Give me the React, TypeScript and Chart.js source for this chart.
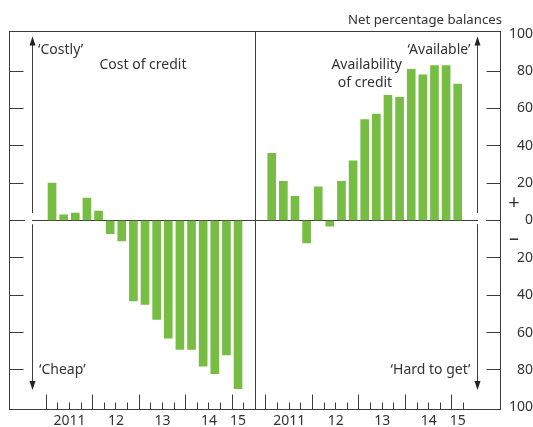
import React, { useEffect, useRef } from 'react';
import { Chart, registerables } from 'chart.js';

Chart.register(...registerables);

// ---- Data ----
const quarters = [
  '2011 Q1', '2011 Q2', '2011 Q3', '2011 Q4',
  '2012 Q1', '2012 Q2', '2012 Q3', '2012 Q4',
  '2013 Q1', '2013 Q2', '2013 Q3', '2013 Q4',
  '2014 Q1', '2014 Q2', '2014 Q3', '2014 Q4',
  '2015 Q1',
];
const yearLabels = ['2011', '12', '13', '14', '15'];
const quartersPerYear = [4, 4, 4, 4, 1];
const costOfCredit = [20, 3, 4, 12, 5, -7, -11, -43, -45, -53, -63, -69, -69, -78, -82, -72, -90];
const availabilityOfCredit = [36, 21, 13, -12, 18, -3, 21, 32, 54, 57, 67, 66, 81, 78, 83, 83, 73];
const yTickValues = [-100, -80, -60, -40, -20, 0, 20, 40, 60, 80, 100];

// ---- Layout / style constants ----
const LEFT_PANEL_START = 0;
const RIGHT_PANEL_START = 18.9;
const PANEL_DIVIDER = 18.04;
const X_MIN = -3.16;
const X_MAX = 39.08;
const Y_LIMIT = 101.2;
const FONT = '"Noto Sans", "Open Sans", sans-serif';
const LINE = '#3d3d3d';
const TEXT = '#333333';
const BAR = '#77bd43';
const NONE = 'rgba(0,0,0,0)';

function buildXTicks() {
  const ticks: any[] = [];
  [LEFT_PANEL_START, RIGHT_PANEL_START].forEach((start) => {
    for (let k = 0; k <= quarters.length; k++) {
      ticks.push({ value: start + k, kind: k % 4 === 0 ? 'major' : 'minor', text: '' });
    }
    let q = 0;
    yearLabels.forEach((label, i) => {
      ticks.push({ value: start + q + quartersPerYear[i] / 2, kind: 'label', text: label });
      q += quartersPerYear[i];
    });
  });
  ticks.push({ value: PANEL_DIVIDER, kind: 'divider', text: '' });
  return ticks;
}

const noAxisPadding = (scale: any) => {
  scale.paddingTop = 0;
  scale.paddingBottom = 0;
  scale.paddingLeft = 0;
  scale.paddingRight = 0;
};

const annotationPlugin = {
  id: 'annotations',
  afterDraw(chart: any) {
    const { ctx, chartArea: ca } = chart;
    const y = chart.scales.y;
    const zero = y.getPixelForValue(0);
    ctx.save();

    // frame
    ctx.strokeStyle = LINE;
    ctx.lineWidth = 1;
    ctx.strokeRect(ca.left, ca.top, ca.right - ca.left, ca.bottom - ca.top);

    // gaps in zero line near arrows
    ctx.fillStyle = '#ffffff';
    ctx.fillRect(ca.left + 15.5, zero - 2, 7, 4);
    ctx.fillRect(ca.right - 22.5, zero - 2, 8, 4);

    // arrows
    const drawArrow = (x: number) => {
      const top = y.getPixelForValue(98.5);
      const bottom = y.getPixelForValue(-90.8);
      const gapTop = y.getPixelForValue(4);
      const gapBottom = y.getPixelForValue(-2);
      ctx.strokeStyle = LINE;
      ctx.lineWidth = 1;
      ctx.beginPath();
      ctx.moveTo(x, top + 6);
      ctx.lineTo(x, gapTop);
      ctx.moveTo(x, gapBottom);
      ctx.lineTo(x, bottom - 6);
      ctx.stroke();
      ctx.fillStyle = '#222';
      ctx.beginPath();
      ctx.moveTo(x, top);
      ctx.lineTo(x - 3, top + 9);
      ctx.lineTo(x + 3, top + 9);
      ctx.closePath();
      ctx.fill();
      ctx.beginPath();
      ctx.moveTo(x, bottom);
      ctx.lineTo(x - 3, bottom - 9);
      ctx.lineTo(x + 3, bottom - 9);
      ctx.closePath();
      ctx.fill();
    };
    drawArrow(ca.left + 23);
    drawArrow(ca.right - 23);

    // texts
    ctx.fillStyle = TEXT;
    ctx.font = `14px ${FONT}`;
    ctx.textBaseline = 'alphabetic';
    ctx.textAlign = 'left';
    ctx.fillText('\u2018Costly\u2019', ca.left + 28.5, ca.top + 22);
    ctx.fillText('\u2018Cheap\u2019', ca.left + 29.5, ca.bottom - 35.5);
    ctx.textAlign = 'center';
    ctx.fillText('Cost of credit', 143, ca.top + 37.5);
    ctx.fillText('Availability', 366.7, ca.top + 37);
    ctx.fillText('of credit', 365, ca.top + 55.5);
    ctx.textAlign = 'right';
    ctx.fillText('\u2018Available\u2019', ca.right - 30, ca.top + 22);
    ctx.fillText('\u2018Hard to get\u2019', ca.right - 30, ca.bottom - 35.5);
    ctx.font = `13.2px ${FONT}`;
    ctx.fillText('Net percentage balances', ca.right + 1.5, ca.top - 7.5);
    ctx.font = `20px ${FONT}`;
    ctx.textAlign = 'center';
    ctx.textBaseline = 'middle';
    ctx.fillText('+', 514, zero - 17);
    ctx.fillText('\u2013', 514, zero + 19);
    ctx.restore();
  },
};

export default function App() {
  const canvasRef = useRef<HTMLCanvasElement>(null);

  useEffect(() => {
    const canvas = canvasRef.current;
    if (!canvas) return;
    const fixedYTicks = (scale: any) => {
      scale.ticks = yTickValues.map((v) => ({ value: v }));
    };
    const chart = new Chart(canvas, {
      type: 'bar',
      data: {
        datasets: [
          {
            label: 'Cost of credit',
            data: costOfCredit.map((v, i) => ({ x: LEFT_PANEL_START + i + 0.5, y: v })),
            backgroundColor: BAR,
            borderWidth: 0,
            barThickness: 8,
            grouped: false,
            yAxisID: 'y',
          },
          {
            label: 'Availability of credit',
            data: availabilityOfCredit.map((v, i) => ({ x: RIGHT_PANEL_START + i + 0.5, y: v })),
            backgroundColor: BAR,
            borderWidth: 0,
            barThickness: 8,
            grouped: false,
            yAxisID: 'y',
          },
        ] as any,
      },
      options: {
        responsive: false,
        animation: false,
        devicePixelRatio: 1,
        layout: { padding: { top: 31.5, left: 0, right: 0, bottom: 0 } },
        plugins: {
          legend: { display: false },
          tooltip: { enabled: false },
          title: { display: false },
        },
        scales: {
          x: {
            type: 'linear',
            offset: false,
            min: X_MIN,
            max: X_MAX,
            afterBuildTicks: (scale: any) => {
              scale.ticks = buildXTicks();
            },
            afterFit: (scale: any) => {
              scale.height = 17.5;
              noAxisPadding(scale);
            },
            border: { display: false },
            grid: {
              offset: false,
              drawOnChartArea: true,
              drawTicks: true,
              tickLength: -15,
              lineWidth: 1,
              tickWidth: 1,
              color: (ctx: any) => (ctx.tick && ctx.tick.kind === 'divider' ? LINE : NONE),
              tickColor: (ctx: any) =>
                ctx.tick && (ctx.tick.kind === 'major' || ctx.tick.kind === 'minor') ? LINE : NONE,
              tickBorderDash: (ctx: any) => (ctx.tick && ctx.tick.kind === 'minor' ? [7.5, 40] : []),
            },
            ticks: {
              autoSkip: false,
              maxRotation: 0,
              minRotation: 0,
              padding: 17.8,
              color: TEXT,
              font: { family: FONT, size: 14 },
              callback: (_v: any, i: number, ticks: any[]) => (ticks[i] && ticks[i].text) || '',
            },
          } as any,
          y: {
            type: 'linear',
            position: 'right',
            min: -Y_LIMIT,
            max: Y_LIMIT,
            afterBuildTicks: fixedYTicks,
            afterFit: (scale: any) => {
              scale.width = 32.5;
              noAxisPadding(scale);
            },
            border: { display: false },
            grid: {
              drawOnChartArea: true,
              tickLength: -14,
              lineWidth: 1,
              color: (ctx: any) => (ctx.tick && ctx.tick.value === 0 ? LINE : NONE),
              tickColor: (ctx: any) => (ctx.tick && Math.abs(ctx.tick.value) === 100 ? NONE : LINE),
            },
            ticks: {
              crossAlign: 'far',
              padding: 21.6,
              color: TEXT,
              font: { family: FONT, size: 14 },
              callback: (v: any) => String(Math.abs(Number(v))),
            },
          } as any,
          yLeft: {
            type: 'linear',
            position: 'left',
            min: -Y_LIMIT,
            max: Y_LIMIT,
            afterBuildTicks: fixedYTicks,
            afterFit: (scale: any) => {
              scale.width = 9.5;
              noAxisPadding(scale);
            },
            border: { display: false },
            grid: {
              drawOnChartArea: false,
              tickLength: -14,
              tickColor: (ctx: any) =>
                ctx.tick && (Math.abs(ctx.tick.value) === 100 || ctx.tick.value === 0) ? NONE : LINE,
            },
            ticks: { display: false },
          } as any,
        },
      },
      plugins: [annotationPlugin],
    });
    return () => chart.destroy();
  }, []);

  return (
    <div style={{ position: 'absolute', left: 0, top: 0, width: 533, height: 427, background: '#fff' }}>
      <canvas ref={canvasRef} width={533} height={427} style={{ display: 'block' }} />
    </div>
  );
}
